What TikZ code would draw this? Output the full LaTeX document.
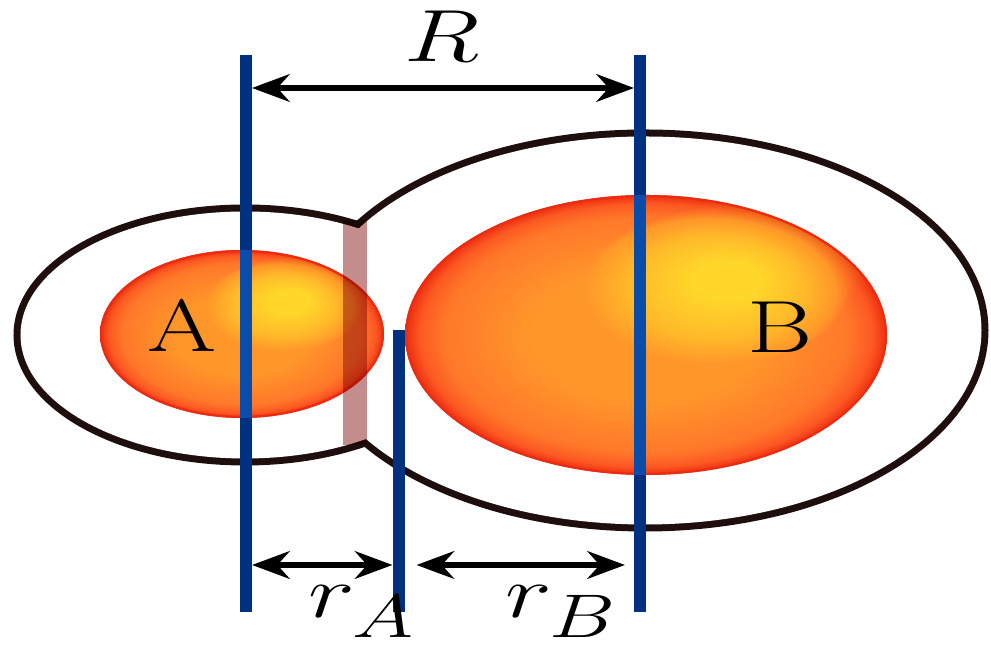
\documentclass[tikz,border=0pt]{standalone}
\usepackage{xcolor}
\usetikzlibrary{arrows.meta}

\definecolor{lineblue}{RGB}{0,48,128}
\definecolor{lineglow}{RGB}{10,76,170}
\definecolor{shellink}{RGB}{30,14,14}
\definecolor{rimred}{RGB}{236,44,16}
\definecolor{coreyellow}{RGB}{255,214,0}
\definecolor{glowgold}{RGB}{255,186,20}
\definecolor{bodyorange}{RGB}{255,150,42}
\definecolor{outerorange}{RGB}{255,120,42}
\definecolor{edgeorange}{RGB}{252,88,34}
\definecolor{emberred}{RGB}{170,36,10}
\definecolor{bandrose}{RGB}{196,140,140}

% body of the atoms: orange, red at the rim (path edge = 25bp)
\pgfdeclareradialshading{atombody}{\pgfpointorigin}{%
  color(0bp)=(bodyorange); color(12bp)=(bodyorange);
  color(21bp)=(outerorange); color(23.5bp)=(edgeorange);
  color(25bp)=(rimred); color(50bp)=(rimred)}
% off-centre highlight, laid on with lighten
\pgfdeclareradialshading{atomspot}{\pgfpoint{9bp}{10.5bp}}{%
  color(0bp)=(coreyellow); color(3.5bp)=(coreyellow);
  color(9bp)=(glowgold); color(13bp)=(bodyorange);
  color(18bp)=(emberred); color(19bp)=(black); color(50bp)=(black)}

\newcommand{\dropsub}[1]{_{\lower 3pt\hbox{$\scriptstyle #1$}}}

\begin{document}
\begin{tikzpicture}[
    shell/.style={draw=shellink, line width=0.28cm},
    hole/.style={fill=white},
    atom/.style={shading=atombody},
    spot/.style={shading=atomspot},
    rim/.style={draw=rimred, line width=2.5pt},
    bond/.style={line width=0.24cm, draw=lineblue},
    span/.style={{Stealth[length=0.75cm, width=0.55cm]}-{Stealth[length=0.75cm, width=0.55cm]},
      line width=3.5pt, shorten <=0.12cm, shorten >=0.12cm},
    lbl/.style={font=\Huge, inner sep=0pt, xscale=2.28, yscale=1.69},
  ]
    \useasboundingbox (0,0) rectangle (19.82,13);

    % ═══ Outer shells (only the outer rim of both stays) ═══
    \draw[shell] (4.9,6.3) ellipse [x radius=4.49, y radius=2.47];
    \draw[shell] (12.9,6.39) ellipse [x radius=6.73, y radius=3.88];
    \fill[hole] (4.9,6.3) ellipse [x radius=4.49, y radius=2.47];
    \fill[hole] (12.9,6.39) ellipse [x radius=6.73, y radius=3.88];

    % ═══ Atoms ═══
    \shade[atom] (4.84,6.32) ellipse [x radius=2.84, y radius=1.68];
    \shade[atom] (12.92,6.3) ellipse [x radius=4.82, y radius=2.8];
    \begin{scope}[blend mode=lighten]
      \shade[spot] (4.84,6.32) ellipse [x radius=2.84, y radius=1.68];
      \shade[spot] (12.92,6.3) ellipse [x radius=4.82, y radius=2.8];
    \end{scope}
    \begin{scope}
      \clip (4.84,6.32) ellipse [x radius=2.84, y radius=1.68];
      \draw[rim] (4.84,6.32) ellipse [x radius=2.84, y radius=1.68];
    \end{scope}
    \begin{scope}
      \clip (12.92,6.3) ellipse [x radius=4.82, y radius=2.8];
      \draw[rim] (12.92,6.3) ellipse [x radius=4.82, y radius=2.8];
    \end{scope}

    % contact band
    \begin{scope}[blend mode=multiply]
      \fill[bandrose] (6.86,4.1) rectangle (7.34,8.6);
    \end{scope}

    % ═══ Vertical lines ═══
    \coordinate (aTop) at (4.92,11.9);
    \coordinate (aBot) at (4.92,0.76);
    \coordinate (bTop) at (12.8,11.9);
    \coordinate (bBot) at (12.8,0.76);
    \coordinate (mTop) at (7.97,6.4);
    \coordinate (mBot) at (7.97,0.76);
    \draw[bond] (aTop) -- (aBot);
    \draw[bond] (bTop) -- (bBot);
    \draw[bond] (mTop) -- (mBot);
    \begin{scope}
      \clip (4.84,6.32) ellipse [x radius=2.84, y radius=1.68];
      \draw[bond, draw=lineglow] (aTop) -- (aBot);
    \end{scope}
    \begin{scope}
      \clip (12.92,6.3) ellipse [x radius=4.82, y radius=2.8];
      \draw[bond, draw=lineglow] (bTop) -- (bBot);
    \end{scope}

    % ═══ Distances ═══
    \coordinate (aHigh) at (4.92,11.24);
    \coordinate (bHigh) at (12.8,11.24);
    \coordinate (aLow) at (4.92,1.7);
    \coordinate (mLow) at (7.97,1.7);
    \coordinate (bLow) at (12.8,1.7);
    \draw[span] (aHigh) -- (bHigh);
    \draw[span] (aLow) -- (mLow);
    \draw[span, shorten <=0.36cm, shorten >=0.3cm] (mLow) -- (bLow);

    % ═══ Labels ═══
    \node[lbl, anchor=base] (lblR) at (8.84,11.76) {$R$};
    \node[lbl, anchor=base west] (lblRA) at (6.16,0.64) {$r\dropsub{A}$};
    \node[lbl, anchor=base west] (lblRB) at (10.1,0.64) {$r\dropsub{B}$};
    \node[lbl, anchor=base] (lblA) at (3.64,5.96) {A};
    \node[lbl, anchor=base] (lblB) at (15.6,5.94) {B};
  \end{tikzpicture}
\end{document}
